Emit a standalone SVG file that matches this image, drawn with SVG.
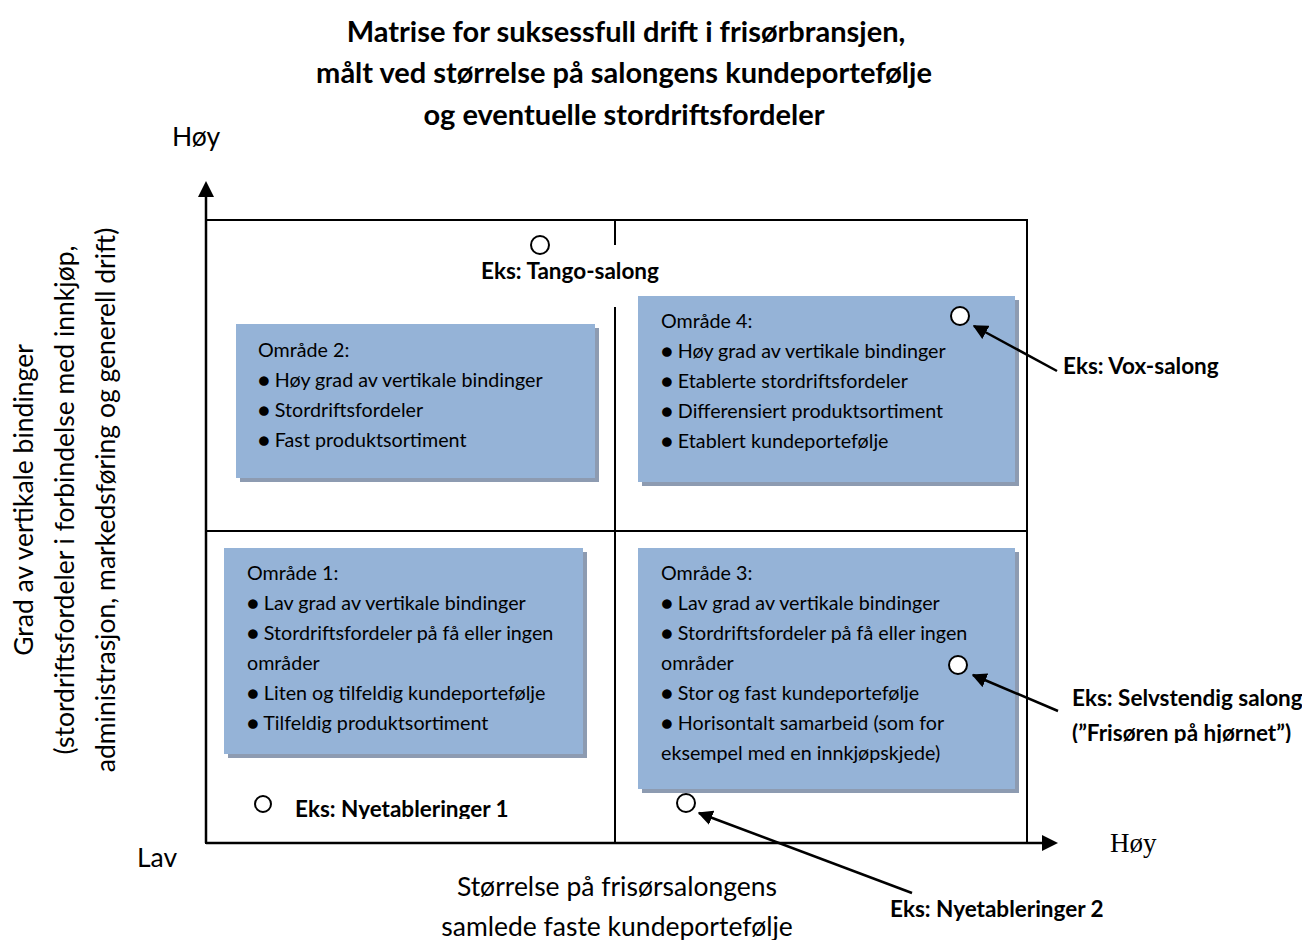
<svg xmlns="http://www.w3.org/2000/svg" width="1302" height="940" viewBox="0 0 1302 940">
<style>
text{font-family:Lato,"Liberation Sans",sans-serif;fill:#000}
.t{font-size:29px;font-weight:bold;text-anchor:middle}
.b{font-size:19.7px}
.e{font-size:22.5px;font-weight:bold}
.ax{font-size:26.5px}
.box{fill:#95b3d7}
.sh{fill:#8d9bb1}
.pt{fill:#fff;stroke:#000;stroke-width:2}
.ln{stroke:#000;fill:none}
</style>
<defs>
<marker id="ah" viewBox="0 0 10 10" refX="9" refY="5" markerWidth="6" markerHeight="6" orient="auto" markerUnits="strokeWidth"><path d="M0,0L10,5L0,10z" fill="#000"/></marker>
<clipPath id="c1"><rect x="280" y="790" width="260" height="29"/></clipPath>
<clipPath id="c2"><rect x="1060" y="715" width="242" height="28"/></clipPath>
</defs>
<g id="title">
<text class="t" x="626" y="42">Matrise for suksessfull drift i frisørbransjen,</text>
<text class="t" x="624" y="83">målt ved størrelse på salongens kundeportefølje</text>
<text class="t" x="624" y="125">og eventuelle stordriftsfordeler</text>
</g>
<g id="axes">
<rect x="206" y="220" width="821" height="623" class="ln" stroke-width="2"/>
<line x1="206" y1="531" x2="1027" y2="531" class="ln" stroke-width="2"/>
<line x1="615" y1="220" x2="615" y2="245" class="ln" stroke-width="2"/>
<line x1="615" y1="307" x2="615" y2="843" class="ln" stroke-width="2"/>
<line x1="206" y1="843" x2="206" y2="196" class="ln" stroke-width="2.5"/>
<path d="M206,181L214,197L198,197z"/>
<line x1="206" y1="843" x2="1043" y2="843" class="ln" stroke-width="2.5"/>
<path d="M1058,843L1042,835L1042,851z"/>
<text class="ax" x="172" y="146">Høy</text>
<text class="ax" x="137" y="867">Lav</text>
<text x="1110" y="852" style="font-family:'Liberation Serif',serif;font-size:27px">Høy</text>
<text class="ax" x="617" y="896" text-anchor="middle">Størrelse på frisørsalongens</text>
<text class="ax" x="617" y="936" text-anchor="middle">samlede faste kundeportefølje</text>
<g transform="translate(0,500) rotate(-90)" text-anchor="middle">
<text class="ax" x="0" y="33">Grad av vertikale bindinger</text>
<text class="ax" x="0" y="74">(stordriftsfordeler i forbindelse med innkjøp,</text>
<text class="ax" x="0" y="115">administrasjon, markedsføring og generell drift)</text>
</g>
</g>
<g id="omrade2">
<rect class="sh" x="240" y="328" width="359" height="154"/>
<rect class="box" x="236" y="324" width="359" height="154"/>
<text class="b" x="258" y="357">Område 2:</text>
<text class="b" x="258" y="387">● Høy grad av vertikale bindinger</text>
<text class="b" x="258" y="417">● Stordriftsfordeler</text>
<text class="b" x="258" y="447">● Fast produktsortiment</text>
</g>
<g id="omrade4">
<rect class="sh" x="642" y="300" width="377" height="186"/>
<rect class="box" x="638" y="296" width="377" height="186"/>
<text class="b" x="661" y="328">Område 4:</text>
<text class="b" x="661" y="358">● Høy grad av vertikale bindinger</text>
<text class="b" x="661" y="388">● Etablerte stordriftsfordeler</text>
<text class="b" x="661" y="418">● Differensiert produktsortiment</text>
<text class="b" x="661" y="448">● Etablert kundeportefølje</text>
</g>
<g id="omrade1">
<rect class="sh" x="228" y="552" width="359" height="206"/>
<rect class="box" x="224" y="548" width="359" height="206"/>
<text class="b" x="247" y="580">Område 1:</text>
<text class="b" x="247" y="610">● Lav grad av vertikale bindinger</text>
<text class="b" x="247" y="640">● Stordriftsfordeler på få eller ingen</text>
<text class="b" x="247" y="670">områder</text>
<text class="b" x="247" y="700">● Liten og tilfeldig kundeportefølje</text>
<text class="b" x="247" y="730">● Tilfeldig produktsortiment</text>
</g>
<g id="omrade3">
<rect class="sh" x="642" y="552" width="377" height="241"/>
<rect class="box" x="638" y="548" width="377" height="241"/>
<text class="b" x="661" y="580">Område 3:</text>
<text class="b" x="661" y="610">● Lav grad av vertikale bindinger</text>
<text class="b" x="661" y="640">● Stordriftsfordeler på få eller ingen</text>
<text class="b" x="661" y="670">områder</text>
<text class="b" x="661" y="700">● Stor og fast kundeportefølje</text>
<text class="b" x="661" y="730">● Horisontalt samarbeid (som for</text>
<text class="b" x="661" y="760">eksempel med en innkjøpskjede)</text>
</g>
<g id="tango">
<circle class="pt" cx="540" cy="245" r="9"/>
<text class="e" x="570" y="279" text-anchor="middle">Eks: Tango-salong</text>
</g>
<g id="vox">
<circle class="pt" cx="960" cy="316" r="9"/>
<text class="e" x="1063" y="374">Eks: Vox-salong</text>
</g>
<g id="selvstendig">
<circle class="pt" cx="958" cy="665" r="9"/>
<text class="e" x="1072" y="706">Eks: Selvstendig salong</text>
<text class="e" x="1072" y="741" clip-path="url(#c2)">(”Frisøren på hjørnet”)</text>
</g>
<g id="nye1">
<circle class="pt" cx="263" cy="804" r="8"/>
<text class="e" x="295" y="817" clip-path="url(#c1)">Eks: Nyetableringer 1</text>
</g>
<g id="nye2">
<circle class="pt" cx="686" cy="803" r="9"/>
<text class="e" x="890" y="917">Eks: Nyetableringer 2</text>
</g>
<g id="connectors" stroke="#000" stroke-width="2.5" fill="none">
<line x1="1057" y1="371" x2="974" y2="326" marker-end="url(#ah)"/>
<line x1="1058" y1="711" x2="973" y2="675" marker-end="url(#ah)"/>
<line x1="912" y1="893" x2="699" y2="813" marker-end="url(#ah)"/>
</g>
</svg>
